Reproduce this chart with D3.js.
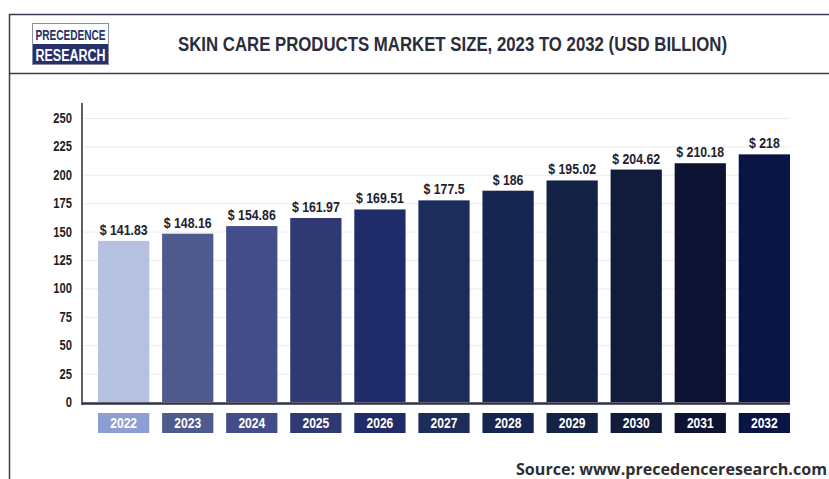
<!DOCTYPE html>
<html>
<head>
<meta charset="utf-8">
<script src="https://cdn.jsdelivr.net/npm/d3@7"></script>
<style>
  html, body { margin: 0; padding: 0; background: #fff; }
  svg { display: block; }
</style>
</head>
<body>
<svg id="chart" width="829" height="479"></svg>
<script>
// Skin care products market size, USD billion
const years = ["2022", "2023", "2024", "2025", "2026", "2027", "2028", "2029", "2030", "2031", "2032"];
const values = [141.83, 148.16, 154.86, 161.97, 169.51, 177.5, 186, 195.02, 204.62, 210.18, 218];
const valueLabels = ["$ 141.83", "$ 148.16", "$ 154.86", "$ 161.97", "$ 169.51", "$ 177.5", "$ 186", "$ 195.02", "$ 204.62", "$ 210.18", "$ 218"];
const barColors = ["#b6c1e1", "#4f5a8e", "#434d89", "#2f3a72", "#202b69", "#1d2d5b", "#172650", "#142246", "#111b3c", "#0d1333", "#0b1545"];
const tagColors = ["#8d9ed3", "#4f5a8e", "#434d89", "#2f3a72", "#202b69", "#1d2d5b", "#172650", "#142246", "#111b3c", "#0d1333", "#0b1545"];
const yTicks = [0, 25, 50, 75, 100, 125, 150, 175, 200, 225, 250];

const sans = "'Liberation Sans', Arial, sans-serif";
const svg = d3.select("#chart");

// Squeeze a text horizontally to mimic a condensed typeface
function condense(sel, factor) {
  sel.each(function () {
    const w = this.getComputedTextLength();
    d3.select(this).attr("textLength", w * factor).attr("lengthAdjust", "spacingAndGlyphs");
  });
}

// Frame and header band
svg.append("path")
  .attr("d", "M9.5,479 V14.5 H829")
  .attr("fill", "none").attr("stroke", "#3a3d4e").attr("stroke-width", 1.5);
svg.append("line")
  .attr("x1", 9).attr("x2", 829).attr("y1", 73.5).attr("y2", 73.5)
  .attr("stroke", "#3a3d4e").attr("stroke-width", 1.5);

// Logo
const logo = svg.append("g").attr("transform", "translate(32,23)");
logo.append("rect").attr("x", 0.5).attr("y", 0.5).attr("width", 76).attr("height", 41)
  .attr("fill", "#fff").attr("stroke", "#8a8fa8").attr("stroke-width", 1);
logo.append("rect").attr("x", 1).attr("y", 21).attr("width", 75).attr("height", 20).attr("fill", "#27306a");
logo.append("text").attr("x", 38.5).attr("y", 17).attr("text-anchor", "middle")
  .attr("font-family", sans).attr("font-weight", "bold").attr("font-size", 15)
  .attr("textLength", 70).attr("lengthAdjust", "spacingAndGlyphs")
  .attr("fill", "#27306a").text("PRECEDENCE");
logo.append("text").attr("x", 38.5).attr("y", 37.5).attr("text-anchor", "middle")
  .attr("font-family", sans).attr("font-weight", "bold").attr("font-size", 16)
  .attr("textLength", 70).attr("lengthAdjust", "spacingAndGlyphs")
  .attr("fill", "#fff").text("RESEARCH");

// Title
svg.append("text").attr("x", 178).attr("y", 51)
  .attr("font-family", sans).attr("font-weight", "bold").attr("font-size", 19.5)
  .attr("textLength", 549).attr("lengthAdjust", "spacingAndGlyphs")
  .attr("fill", "#2a2d3c")
  .text("SKIN CARE PRODUCTS MARKET SIZE, 2023 TO 2032 (USD BILLION)");

// Scales
const x = d3.scaleBand().domain(years).range([82, 806]).paddingInner(0.2).paddingOuter(0.25);
const y = d3.scaleLinear().domain([0, 250]).range([402, 118]);

// Gridlines
svg.append("g").selectAll("line").data(yTicks.filter(t => t > 0)).join("line")
  .attr("x1", 83).attr("x2", 790)
  .attr("y1", d => y(d) + 0.5).attr("y2", d => y(d) + 0.5)
  .attr("stroke", "#ececec").attr("stroke-width", 1);

// Y axis
const yAxis = svg.append("g").attr("transform", "translate(82,0)")
  .call(d3.axisLeft(y).tickValues(yTicks).tickSize(0).tickPadding(10));
yAxis.select(".domain").remove();
yAxis.selectAll("text")
  .attr("font-family", sans).attr("font-weight", "bold").attr("font-size", 14)
  .attr("fill", "#1e1e24")
  .call(condense, 0.8);
svg.append("line").attr("x1", 82).attr("x2", 82).attr("y1", 103).attr("y2", 405)
  .attr("stroke", "#2a2a33").attr("stroke-width", 1.5);

// Bars
svg.append("g").selectAll("rect").data(values).join("rect")
  .attr("x", (d, i) => x(years[i]))
  .attr("y", d => y(d))
  .attr("width", x.bandwidth())
  .attr("height", d => y(0) - y(d))
  .attr("fill", (d, i) => barColors[i]);

// Baseline
svg.append("line").attr("x1", 82).attr("x2", 790).attr("y1", 403.5).attr("y2", 403.5)
  .attr("stroke", "#2f3040").attr("stroke-width", 2.5);

// Value labels
svg.append("g").selectAll("text").data(values).join("text")
  .attr("x", (d, i) => x(years[i]) + x.bandwidth() / 2)
  .attr("y", d => y(d) - 6)
  .attr("text-anchor", "middle")
  .attr("font-family", sans).attr("font-weight", "bold").attr("font-size", 15)
  .attr("fill", "#1f2130")
  .text((d, i) => valueLabels[i])
  .call(condense, 0.82);

// Year tags
const tags = svg.append("g").selectAll("g").data(years).join("g")
  .attr("transform", d => `translate(${x(d)},413)`);
tags.append("rect").attr("width", x.bandwidth()).attr("height", 20)
  .attr("fill", (d, i) => tagColors[i]);
tags.append("text").attr("x", x.bandwidth() / 2).attr("y", 15).attr("text-anchor", "middle")
  .attr("font-family", sans).attr("font-weight", "bold").attr("font-size", 14)
  .attr("fill", "#fff").text(d => d)
  .call(condense, 0.86);

// Source
svg.append("text").attr("x", 827).attr("y", 475).attr("text-anchor", "end")
  .attr("font-family", "'Open Sans', 'DejaVu Sans', sans-serif").attr("font-weight", "bold")
  .attr("font-size", 15.5).attr("fill", "#2e2e33")
  .attr("textLength", 311).attr("lengthAdjust", "spacingAndGlyphs")
  .text("Source: www.precedenceresearch.com");
</script>
</body>
</html>
